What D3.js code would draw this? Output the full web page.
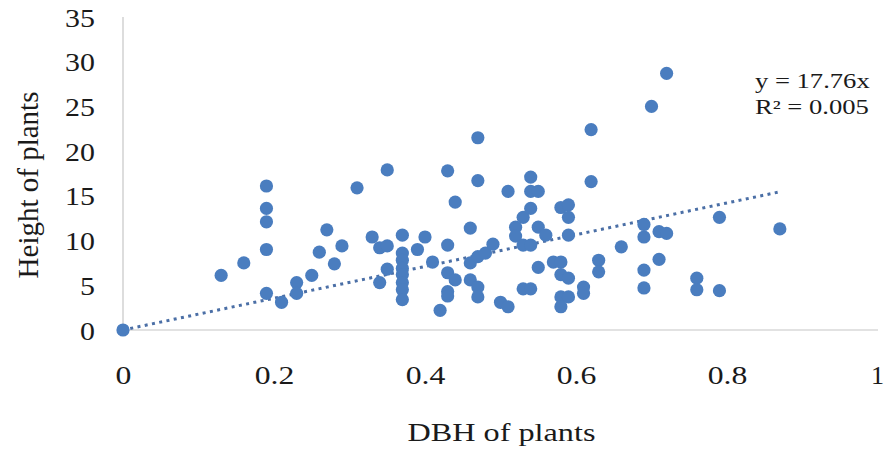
<!DOCTYPE html>
<html>
<head>
<meta charset="utf-8">
<script src="https://cdn.jsdelivr.net/npm/d3@7"></script>
<style>
  html, body { margin: 0; padding: 0; background: #ffffff; }
  svg { display: block; }
  text { font-family: "Liberation Serif", "Times New Roman", serif; fill: #1a1a1a; }
</style>
</head>
<body>
<svg id="chart" width="885" height="453"></svg>
<script>
// ---- data ----
const dbh = [
  0, 0.13, 0.16, 0.19, 0.19, 0.19, 0.19, 0.19, 0.21, 0.23,
  0.23, 0.25, 0.26, 0.27, 0.28, 0.29, 0.31, 0.33, 0.34, 0.34,
  0.35, 0.35, 0.35, 0.37, 0.37, 0.37, 0.37, 0.37, 0.37, 0.37,
  0.37, 0.39, 0.40, 0.41, 0.42, 0.43, 0.43, 0.43, 0.43, 0.43,
  0.44, 0.44, 0.46, 0.46, 0.46, 0.47, 0.47, 0.47, 0.47, 0.47,
  0.48, 0.49, 0.50, 0.51, 0.51, 0.52, 0.52, 0.53, 0.53, 0.53,
  0.54, 0.54, 0.55, 0.54, 0.54, 0.54, 0.55, 0.56, 0.55, 0.57,
  0.58, 0.58, 0.59, 0.59, 0.59, 0.58, 0.59, 0.58, 0.59, 0.58,
  0.61, 0.61, 0.62, 0.62, 0.63, 0.63, 0.66, 0.69, 0.69, 0.69,
  0.69, 0.70, 0.71, 0.71, 0.72, 0.72, 0.76, 0.76, 0.79, 0.79,
  0.87
];
const height = [
  0, 6.1, 7.5, 16.1, 13.6, 12.1, 9.0, 4.1, 3.1, 5.3,
  4.1, 6.1, 8.7, 11.2, 7.4, 9.4, 15.9, 10.4, 5.3, 9.2,
  9.4, 6.8, 17.9, 10.6, 8.6, 7.8, 6.9, 6.2, 5.3, 4.5,
  3.4, 9.0, 10.4, 7.6, 2.2, 17.8, 9.5, 6.4, 4.3, 3.8,
  14.3, 5.6, 11.4, 7.5, 5.6, 21.5, 16.7, 8.2, 4.8, 3.7,
  8.6, 9.6, 3.1, 2.6, 15.5, 11.5, 10.5, 12.6, 9.5, 4.6,
  17.1, 15.5, 15.5, 13.6, 9.5, 4.6, 11.5, 10.6, 7.0, 7.6,
  7.6, 13.7, 14.0, 12.6, 10.6, 6.2, 5.8, 3.7, 3.7, 2.6,
  4.8, 4.1, 22.4, 16.6, 7.8, 6.5, 9.3, 11.8, 10.4, 6.7,
  4.7, 25.0, 7.9, 11.0, 10.8, 28.7, 5.8, 4.5, 12.6, 4.4,
  11.3
];
const xTicks = [0, 0.2, 0.4, 0.6, 0.8, 1];
const yTicks = [0, 5, 10, 15, 20, 25, 30, 35];
const slope = 17.76;
const equationLines = ["y = 17.76x", "R\u00B2 = 0.005"];
const xTitle = "DBH of plants";
const yTitle = "Height of plants";

// ---- layout ----
const svg = d3.select("#chart");
const x = d3.scaleLinear().domain([0, 1]).range([123, 878]);
const y = d3.scaleLinear().domain([0, 35]).range([330, 17]);

const markerColor = "#4a7dbf";
const trendColor = "#4b6fa6";
const axisColor = "#c6c6c6";

// axes lines
svg.append("line")
  .attr("x1", x(0)).attr("x2", x(0))
  .attr("y1", y(0)).attr("y2", y(35))
  .attr("stroke", axisColor).attr("stroke-width", 1.2);
svg.append("line")
  .attr("x1", x(0)).attr("x2", x(1))
  .attr("y1", y(0)).attr("y2", y(0))
  .attr("stroke", axisColor).attr("stroke-width", 1.2);

// y axis labels
const yAxis = d3.axisLeft(y).tickValues(yTicks).tickSize(0).tickFormat(d3.format("d"));
const gy = svg.append("g").attr("transform", `translate(${x(0)},0)`).call(yAxis);
gy.select(".domain").remove();
gy.selectAll(".tick text")
  .attr("x", 0).attr("dy", null).attr("y", 0)
  .attr("text-anchor", "end")
  .style("font-size", "26px")
  .style("font-family", "'Liberation Serif', serif")
  .attr("fill", "#1a1a1a")
  .attr("transform", "translate(-28,9) scale(1.15,1)");

// x axis labels
const xAxis = d3.axisBottom(x).tickValues(xTicks).tickSize(0).tickFormat(d => d3.format("")(d));
const gx = svg.append("g").attr("transform", `translate(0,${y(0)})`).call(xAxis);
gx.select(".domain").remove();
gx.selectAll(".tick text")
  .attr("x", 0).attr("dy", null).attr("y", 0)
  .attr("text-anchor", "middle")
  .style("font-size", "26px")
  .style("font-family", "'Liberation Serif', serif")
  .attr("fill", "#1a1a1a")
  .attr("transform", d => d === 1 ? "translate(-1,54) scale(1.0,1)" : "translate(0,54) scale(1.22,1)");

// trend line (through origin)
const xMax = d3.max(dbh);
svg.append("path")
  .datum([0, xMax])
  .attr("d", d3.line().x(d => x(d)).y(d => y(slope * d)))
  .attr("fill", "none")
  .attr("stroke", trendColor)
  .attr("stroke-width", 3)
  .attr("stroke-dasharray", "3,4.4");

// points
svg.append("g").selectAll("circle")
  .data(dbh.map((d, i) => [d, height[i]]))
  .join("circle")
  .attr("cx", d => x(d[0]))
  .attr("cy", d => y(d[1]))
  .attr("r", 6.6)
  .attr("fill", markerColor);

// equation label
const eq = svg.append("g").attr("transform", "translate(755,0)");
eq.selectAll("text").data(equationLines).join("text")
  .attr("transform", (d, i) => `translate(0,${88 + i * 26}) scale(1.33,1)`)
  .style("font-size", "20px")
  .text(d => d);

// axis titles
svg.append("text")
  .attr("transform", `translate(${(x(0) + x(1)) / 2 + 1},441) scale(1.24,1)`)
  .attr("text-anchor", "middle")
  .style("font-size", "26px")
  .text(xTitle);

svg.append("text")
  .attr("transform", "translate(38,185) rotate(-90)")
  .attr("text-anchor", "middle")
  .style("font-size", "29px")
  .text(yTitle);
</script>
</body>
</html>
